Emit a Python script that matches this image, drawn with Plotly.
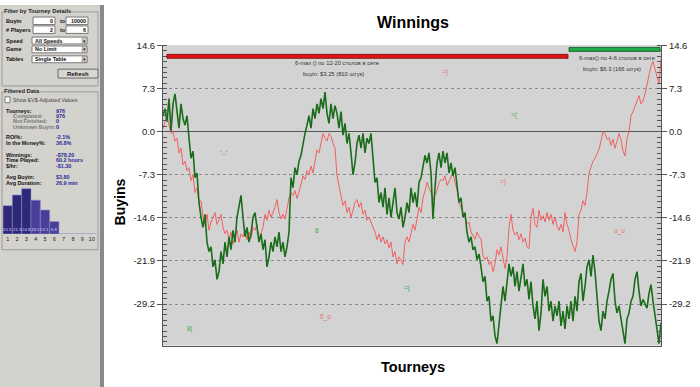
import plotly.graph_objects as go

# ---------------- data ----------------
green_buyins = [
    2.7, 3.9, 1.7, 5.6, 0.1, 4.7, 6.4, 3.4, 0.6, 4.7,
    2.2, 1.1, 2.7, -1.1, -4.5, -3.3, -7.8, -7.0, -12.0, -14.5,
    -16.2, -14.0, -18.7, -20.3, -19.5, -22.9, -21.7, -25.0, -23.7, -20.3,
    -22.4, -18.7, -21.2, -17.8, -20.0, -16.7, -18.7, -14.5, -12.8, -10.8,
    -14.5, -17.8, -16.2, -18.7, -17.3, -14.5, -13.7, -16.2, -18.7, -17.3,
    -20.0, -18.3, -22.9, -21.2, -18.7, -20.3, -17.8, -19.5, -17.0, -20.3,
    -18.7, -21.2, -19.5, -17.0, -7.8, -9.5, -6.1, -7.3, -5.0, -4.0,
    -2.0, -0.3, 1.1, 2.7, 0.6, 3.9, 2.2, 4.7, 3.1, 5.6,
    3.9, 6.7, 3.1, 1.4, 4.7, 2.2, 4.4, 3.1, 0.6, 3.4,
    -0.6, 1.4, -2.0, -0.3, -3.6, -7.3, -5.3, -2.0, -0.6, -2.8,
    -0.3, -3.6, -1.1, -2.0, -0.3, -4.5, -8.6, -7.8, -12.0, -10.3,
    -12.8, -9.5, -14.0, -11.2, -14.5, -12.0, -9.5, -13.7, -14.8, -12.8,
    -16.2, -14.5, -12.0, -13.7, -9.5, -12.0, -10.3, -12.8, -8.6, -7.8,
    -6.1, -4.0, -5.3, -3.6, -7.0, -14.8, -9.5, -5.3, -3.6, -6.1,
    -3.3, -5.3, -3.6, -7.0, -5.3, -7.5, -6.1, -9.5, -12.0, -11.2,
    -14.5, -13.7, -17.0, -18.7, -17.8, -20.0, -19.5, -21.7, -20.7, -22.9,
    -25.4, -24.5, -28.7, -27.9, -32.1, -31.2, -34.6, -35.9, -32.9, -29.5,
    -26.2, -28.7, -25.0, -22.4, -24.5, -22.9, -26.2, -23.7, -27.0, -24.5,
    -22.4, -26.2, -25.0, -28.4, -25.4, -29.5, -31.7, -28.7, -33.7, -30.7,
    -25.0, -27.9, -26.2, -30.4, -28.7, -32.1, -29.5, -31.2, -28.7, -32.9,
    -30.4, -33.4, -29.5, -31.7, -28.7, -32.1, -27.9, -30.4, -25.4, -24.0,
    -28.7, -26.2, -22.9, -21.7, -24.5, -20.9, -23.7, -27.9, -32.1, -33.7,
    -30.4, -31.7, -28.7, -27.0, -25.0, -24.0, -28.7, -30.7, -29.5, -31.7,
    -33.7, -35.9, -31.7, -30.7, -28.7, -27.9, -25.0, -23.7, -27.0, -29.5,
    -28.4, -29.2, -29.9, -27.4, -25.9, -28.7, -31.2, -33.7, -35.9, -32.4,
]

red_buyins = [
    0.6, 1.7, 2.7, 1.1, -0.3, 0.0, -1.6, -1.1, -3.6, -2.8,
    -5.6, -5.0, -6.6, -6.1, -8.3, -7.3, -10.3, -9.5, -12.0, -11.7,
    -14.5, -15.7, -14.0, -16.7, -15.3, -14.5, -13.7, -15.7, -15.0, -14.0,
    -16.2, -17.3, -16.7, -18.3, -17.0, -19.0, -17.8, -16.7, -18.7, -17.3,
    -17.8, -16.7, -18.3, -17.0, -18.0, -16.2, -16.7, -15.7, -18.3, -17.3,
    -16.2, -14.0, -15.0, -13.3, -14.5, -13.7, -12.8, -11.5, -13.7, -14.8,
    -14.0, -14.8, -12.8, -11.2, -10.3, -10.8, -10.0, -11.3, -10.3, -9.1,
    -7.5, -8.1, -6.6, -7.3, -5.8, -7.0, -5.3, -3.1, -3.6, -2.0,
    -0.3, -1.1, -1.6, -0.3, -0.8, -2.0, -2.8, -7.5, -9.0, -10.8,
    -12.5, -11.7, -13.7, -12.8, -14.5, -13.3, -12.0, -11.5, -12.8, -12.0,
    -14.0, -13.3, -15.0, -14.5, -15.3, -16.2, -17.0, -18.3, -17.3, -18.7,
    -17.8, -19.0, -18.3, -19.7, -18.7, -21.2, -20.3, -22.4, -21.2, -21.7,
    -22.5, -18.7, -17.8, -18.7, -17.0, -15.7, -16.7, -14.5, -12.8, -13.7,
    -11.2, -10.0, -8.6, -9.5, -10.3, -11.5, -10.7, -10.0, -8.6, -8.1,
    -8.3, -7.5, -9.1, -8.3, -7.8, -7.0, -8.6, -9.8, -12.0, -12.8,
    -13.7, -14.5, -15.7, -15.3, -17.0, -17.5, -18.2, -17.0, -17.8, -18.2,
    -20.9, -21.7, -21.2, -22.5, -22.0, -23.7, -22.4, -20.0, -20.9, -19.5,
    -21.7, -23.2, -21.2, -16.2, -14.0, -16.7, -17.5, -17.0, -18.3, -17.3,
    -18.7, -18.0, -19.5, -19.8, -14.5, -13.0, -15.7, -16.2, -13.3, -15.0,
    -14.2, -15.3, -13.7, -15.0, -14.0, -15.7, -14.5, -16.0, -16.7, -15.7,
    -17.0, -13.7, -15.7, -16.7, -18.3, -19.5, -20.3, -18.7, -14.0, -13.3,
    -11.7, -12.5, -10.3, -7.0, -5.8, -5.0, -4.5, -3.6, -3.0, -1.6,
    0.0, -0.3, -1.3, -1.0, -2.3, -1.3, -2.8, -1.6, -0.3, -1.3,
    -3.3, -4.1, -1.1, 0.0, 2.7, 3.4, 4.4, 5.1, 6.1, 4.7,
    5.2, 6.4, 8.1, 9.2, 11.1, 11.9, 10.6, 9.2, 8.1, 12.3,
]

y_tick_vals = [14.6, 7.3, 0.0, -7.3, -14.6, -21.9, -29.2]
y_tick_text = ["14.6", "7.3", "0.0", "-7.3", "-14.6", "-21.9", "-29.2"]

series_names = ["6-max () по 12-20 столов в сете", "6-max() по 4-6 столов в сете"]
series_buyins = ["buyin: $3.25 (810 штук)", "buyin: $6.3 (166 штук)"]

# smiley marks drawn on the chart: (sample index, buyins, text, series)
smiley_idx = [141, 175.5, 30.5, 77, 170, 228, 122, 81, 13.5]
smiley_val = [10.1, 2.9, -3.3, -16.7, -8.6, -16.8, -26.5, -31.4, -33.4]
smiley_txt = ["=)", "=(", "-_-", "8", "=)", "u_u", "=(", "0_o", "8|"]
smiley_ser = ["red", "green", "red", "green", "red", "red", "green", "red", "green"]

hist_cats = [1, 2, 3, 4, 5, 6, 7, 8, 9, 10]
hist_pct = [15.5, 21.3, 24.8, 18.5, 13.1, 6.8, 0, 0, 0, 0]

filter_labels = ["Buyin", "# Players", "Speed", "Game", "Tables"]
buyin_range = ["0", "10000"]
players_range = ["2", "6"]
dropdown_values = ["All Speeds", "No Limit", "Single Table"]
stat_labels = ["Tourneys:", "Completed:", "Not Finished:", "Unknown Buyin:", "ROI%:",
               "In the Money%:", "Winnings:", "Time Played:", "$/hr:", "Avg Buyin:", "Avg Duration:"]
stat_values = ["976", "976", "0", "0", "-2.1%", "36.8%", "-$78.20", "60.2 hours", "-$1.30", "$3.80", "26.9 min"]
stat_sub = [0, 1, 1, 1, 0, 0, 0, 0, 0, 0, 0]

# ---------------- helpers (layout only) ----------------
W, H = 700, 387
FONT = "Liberation Sans, Arial, sans-serif"
RED = "#f06060"
GREEN = "#1b6d1b"


def PX(x):
    return x / W


def PY(y):
    return 1 - y / H


shapes = []
annotations = []


def rect(x0, y0, x1, y1, fill, line="rgba(0,0,0,0)", width=1, layer="above"):
    shapes.append(dict(type="rect", xref="paper", yref="paper",
                       x0=PX(x0), x1=PX(x1), y0=PY(y1), y1=PY(y0),
                       fillcolor=fill, line=dict(color=line, width=width), layer=layer))


def text(x, y, s, size=5.5, color="#111", bold=False, anchor="left", bg=None):
    a = dict(x=PX(x), y=PY(y), xref="paper", yref="paper",
             text=f"<b>{s}</b>" if bold else s, showarrow=False,
             xanchor=anchor, yanchor="middle", font=dict(size=size, color=color, family=FONT),
             borderpad=0)
    if bg:
        a["bgcolor"] = bg
    annotations.append(a)


# ---------------- left panel ----------------
PANEL = "#d4d2cd"
rect(0, 0, 100, 387, PANEL, layer="below")
rect(100, 0, 104, 387, "#8a8a8a", layer="below")

# group box 1
rect(2, 7, 98, 82, "rgba(0,0,0,0)", "#9a9a9a", 1)
text(3, 6, "Filter by Tourney Details", 5.8, "#222", True, bg=PANEL)
row_y = [16, 25, 36, 45, 55]
for lab, yy in zip(filter_labels, row_y):
    text(5, yy, lab, 5.6, "#111", True)
for rng, yy in zip([buyin_range, players_range], row_y[:2]):
    rect(33, yy - 3.8, 55, yy + 3.8, "white", "#7a7a7a", 1)
    rect(66, yy - 3.8, 88, yy + 3.8, "white", "#7a7a7a", 1)
    text(54, yy, rng[0], 5.4, "#111", True, anchor="right")
    text(87, yy, rng[1], 5.4, "#111", True, anchor="right")
    text(59, yy, "to", 5.4, "#111", True)
for val, yy in zip(dropdown_values, row_y[2:]):
    rect(32, yy - 3.5, 87, yy + 3.5, "white", "#7a7a7a", 1)
    rect(82, yy - 2.8, 87, yy + 2.8, "#d4d0c8", "#7a7a7a", 0.5)
    text(84.5, yy, "▾", 5, "#111", anchor="center")
    text(34, yy, val, 5.4, "#111", True)
rect(58, 65, 98, 74, "#d8d6d0", "#6a6a6a", 1)
text(78, 69.5, "Refresh", 5.8, "#111", True, anchor="center")

# group box 2
rect(2, 88, 98, 248, "rgba(0,0,0,0)", "#9a9a9a", 1)
text(3, 87, "Filtered Data", 5.8, "#222", True, bg=PANEL)
rect(5, 93, 10, 99, "white", "#7a7a7a", 1)
text(12, 96, "Show EV$-Adjusted Values", 5.3, "#444")
stat_y = [107, 112.5, 118, 123.5, 134, 140, 151.5, 157, 163, 174, 180]
for lab, val, sub, yy in zip(stat_labels, stat_values, stat_sub, stat_y):
    text(12 if sub else 5, yy, lab, 5.4, "#777" if sub else "#111", True)
    text(55, yy, val, 5.4, "#2b2b96", True)

# ---------------- chart annotations ----------------
text(413, 18, "Winnings", 16, "#000", True, anchor="center")
text(413, 367, "Tourneys", 14.5, "#000", True, anchor="center")
annotations.append(dict(x=PX(120), y=PY(200), xref="paper", yref="paper", text="<b>Buyins</b>",
                        showarrow=False, textangle=-90, xanchor="center", yanchor="middle",
                        font=dict(size=14, color="#000", family=FONT)))

# legend bars
rect(167, 50, 568, 54, "#e01616", "#7a0000", 0.8)
rect(569, 43, 660, 47, "#22aa48", "#0e5a22", 0.8)
text(337, 59, series_names[0], 5.8, "#333", anchor="center")
text(333, 69.5, series_buyins[0], 5.8, "#333", anchor="center")
text(617, 54, series_names[1], 5.8, "#333", anchor="center")
text(612, 64.5, series_buyins[1], 5.8, "#333", anchor="center")

# smileys
for xi, yv, s, ser in zip(smiley_idx, smiley_val, smiley_txt, smiley_ser):
    annotations.append(dict(x=xi, y=yv, xref="x", yref="y", text=s, showarrow=False,
                            font=dict(size=6.5, family=FONT,
                                      color="#e86a6a" if ser == "red" else "#3faa4f")))

# histogram value labels
for c, v in zip(hist_cats, hist_pct):
    if v > 0:
        annotations.append(dict(x=c, y=0, xref="x3", yref="y3", text=f"{v:.1f}", showarrow=False,
                                yanchor="bottom", yshift=0.5,
                                font=dict(size=4.3, family=FONT, color="#d8d8ff")))

# ---------------- traces ----------------
fig = go.Figure()
fig.add_trace(go.Scatter(x=list(range(len(red_buyins))), y=red_buyins, mode="lines",
                         line=dict(color=RED, width=1), hoverinfo="skip", showlegend=False))
fig.add_trace(go.Scatter(x=list(range(len(green_buyins))), y=green_buyins, mode="lines",
                         line=dict(color=GREEN, width=1.6), hoverinfo="skip", showlegend=False))
fig.add_trace(go.Scatter(x=[0], y=[0], yaxis="y2", mode="markers", marker=dict(opacity=0),
                         hoverinfo="skip", showlegend=False))
hist_colors = ["#2e2878" if i < 3 else "#4a3f98" for i in range(len(hist_cats))]
fig.add_trace(go.Bar(x=hist_cats, y=hist_pct, xaxis="x3", yaxis="y3", width=1,
                     marker=dict(color=hist_colors, line=dict(color="#8c8cc8", width=0.6)),
                     hoverinfo="skip", showlegend=False))

n = len(green_buyins)
y_range = [-36.22, 14.65]
ydom = [1 - 345 / H, 1 - 40.7 / H]
tickfont = dict(size=9.5, color="#222", family=FONT)
minor = dict(tickmode="linear", tick0=0, dtick=0.9125, ticks="inside", ticklen=4,
             tickcolor="#555", showgrid=False)

fig.update_layout(
    width=W, height=H, margin=dict(l=0, r=0, t=0, b=0),
    paper_bgcolor="white", plot_bgcolor="#d3d3d3", showlegend=False, bargap=0,
    xaxis=dict(domain=[163 / W, 661 / W], range=[0, n - 1], anchor="y",
               showticklabels=False, ticks="", showgrid=False, zeroline=False,
               showline=True, linecolor="#555", linewidth=1),
    yaxis=dict(domain=ydom, range=y_range, anchor="x", tickmode="array",
               tickvals=y_tick_vals, ticktext=y_tick_text, ticks="outside", ticklen=5,
               tickcolor="#555", tickfont=tickfont, showline=True, linecolor="#555",
               showgrid=True, gridcolor="#8a8a8a", griddash="dot", gridwidth=1,
               zeroline=True, zerolinecolor="#555", zerolinewidth=1, minor=minor),
    yaxis2=dict(range=y_range, overlaying="y", side="right", anchor="x", tickmode="array",
                tickvals=y_tick_vals, ticktext=y_tick_text, ticks="outside", ticklen=5,
                tickcolor="#555", tickfont=tickfont, showline=True, linecolor="#555",
                showgrid=False, zeroline=False, minor=minor),
    xaxis3=dict(domain=[3 / W, 96.3 / W], anchor="y3", range=[0.5, 10.5], tickmode="array",
                tickvals=hist_cats, ticktext=[str(c) for c in hist_cats], ticks="",
                tickfont=dict(size=5.5, color="#222", family=FONT), showgrid=False,
                zeroline=False, showline=False),
    yaxis3=dict(domain=[1 - 232 / H, 1 - 183.8 / H], anchor="x3", range=[0, 26], visible=False),
    shapes=shapes, annotations=annotations,
)

fig.write_html(
    "out.html",
    config={"displayModeBar": False, "staticPlot": True},
    post_script="document.body.style.margin='0';document.body.style.padding='0';"
                "document.body.style.overflow='hidden';",
)
